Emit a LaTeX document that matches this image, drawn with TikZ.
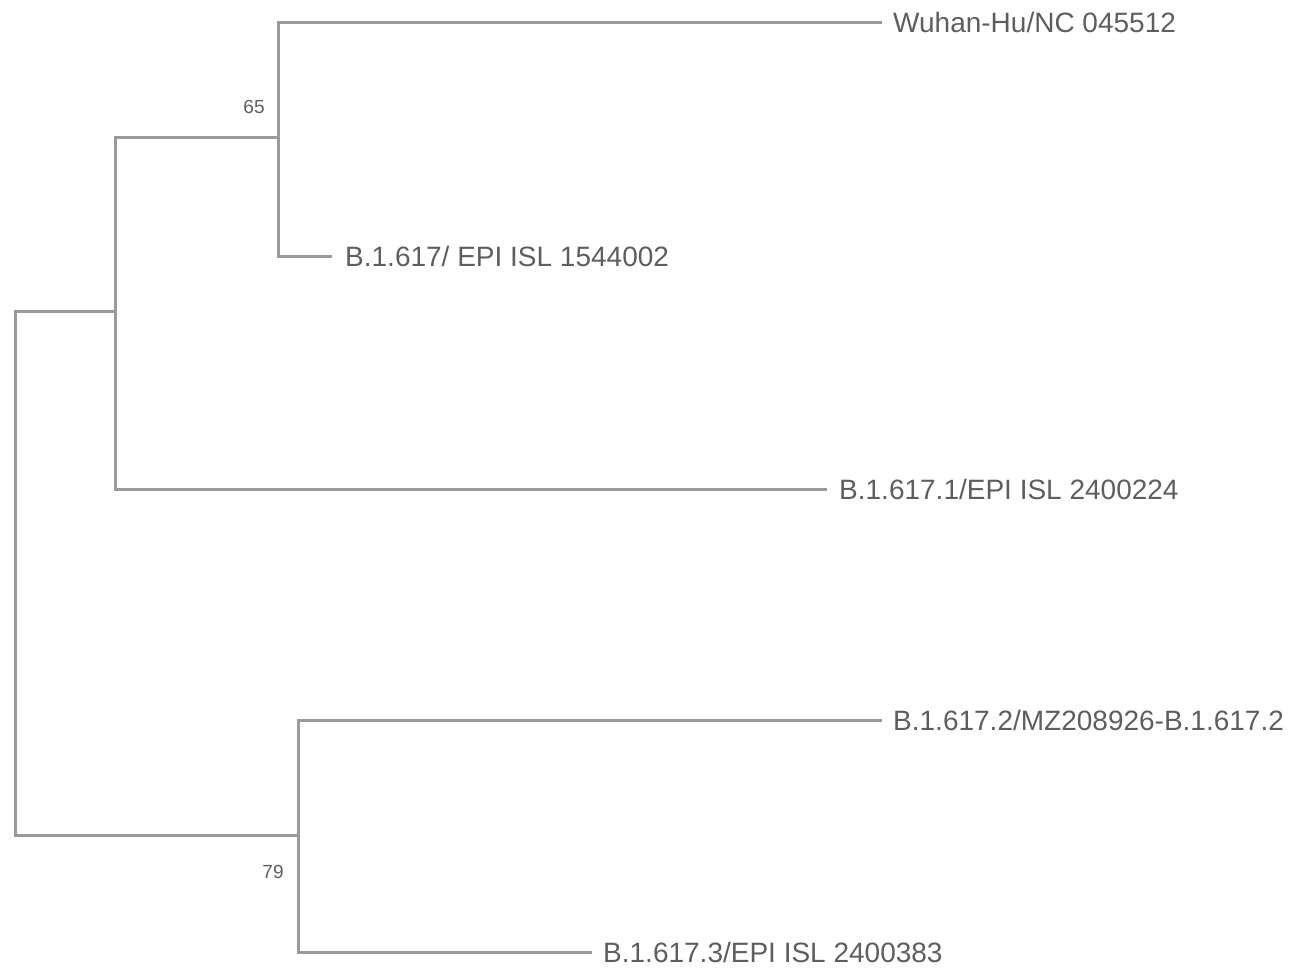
\documentclass[tikz,border=0pt]{standalone}
\usepackage{fontspec}
\setmainfont{Liberation Sans}
\definecolor{branch}{HTML}{9A9A9A}
\definecolor{txt}{HTML}{5E5E5E}
\begin{document}
\begin{tikzpicture}[x=1pt,y=-1pt,
  br/.style={draw=branch,line width=3pt,line cap=rect},
  leaf/.style={anchor=west,inner sep=0pt,text=txt,font=\fontsize{28}{28}\selectfont},
  boot/.style={inner sep=0pt,text=txt,font=\fontsize{19}{19}\selectfont}]
\useasboundingbox (0,0) rectangle (1295,967);
% internal nodes
\coordinate (root) at (15,573);
\coordinate (n1) at (115,311);
\coordinate (n2) at (278,137);
\coordinate (n3) at (298,835);
% leaf ends
\coordinate (e1) at (880,22);
\coordinate (e2) at (330,256);
\coordinate (e3) at (825,489);
\coordinate (e4) at (880,720);
\coordinate (e5) at (590,952);
% labels
\node[leaf] (l1) at (893,22) {Wuhan-Hu/NC 045512};
\node[leaf] (l2) at (345,256) {B.1.617/ EPI ISL 1544002};
\node[leaf] (l3) at (839,489) {B.1.617.1/EPI ISL 2400224};
\node[leaf] (l4) at (893,720) {B.1.617.2/MZ208926-B.1.617.2};
\node[leaf] (l5) at (603,952) {B.1.617.3/EPI ISL 2400383};
\node[boot] (b1) at (254,107) {65};
\node[boot] (b2) at (273,872) {79};
% branches
\draw[br] (n1) -| (15,835) -- (n3);
\draw[br] (n1) -- (15,311);
\draw[br] (n2) -- (115,137) -- (115,489) -- (e3);
\draw[br] (278,22) -- (278,256);
\draw[br] (278,22) -- (e1);
\draw[br] (278,256) -- (e2);
\draw[br] (298,720) -- (298,952);
\draw[br] (298,720) -- (e4);
\draw[br] (298,952) -- (e5);
\end{tikzpicture}
\end{document}
